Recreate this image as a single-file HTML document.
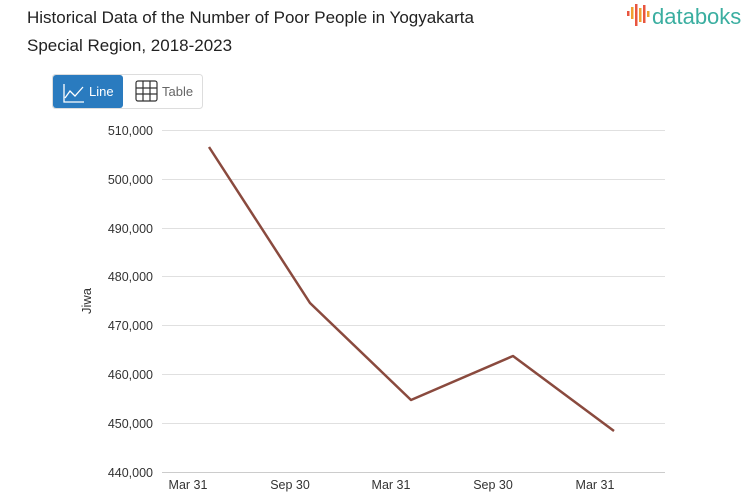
<!DOCTYPE html>
<html><head><meta charset="utf-8"><style>
body{margin:0;width:753px;height:498px;background:#fff;font-family:"Liberation Sans",sans-serif;overflow:hidden;position:relative}
.t{position:absolute;left:27px;top:4px;font-size:17px;line-height:28px;color:#222}
</style></head><body>
<div class="t">Historical Data of the Number of Poor People in Yogyakarta<br>Special Region, 2018-2023</div>
<svg width="753" height="498" style="position:absolute;left:0;top:0">
<g fill="#e8553f"><rect x="627" y="11" width="2.5" height="5"/><rect x="631" y="7" width="2.5" height="12" fill="#f0a030"/><rect x="635" y="4" width="2.5" height="22"/><rect x="639" y="8" width="2.5" height="14" fill="#f0a030"/><rect x="643" y="5" width="2.5" height="18"/><rect x="647" y="11" width="2.5" height="6" fill="#f0a030"/></g>
<text x="652" y="24" font-size="22" fill="#3aaea0" font-family="Liberation Sans">databoks</text>
<rect x="52.5" y="74.5" width="150" height="34" rx="3" fill="#fff" stroke="#ddd"/>
<rect x="53" y="75" width="70" height="33" rx="3" fill="#2a7bbf"/>
<polyline points="64,84 64,102 84,102" fill="none" stroke="#fff" stroke-width="1.3"/>
<polyline points="65,98 70,91 75,96 83,87" fill="none" stroke="#fff" stroke-width="1.3"/>
<text x="89" y="96" font-size="13" fill="#fff">Line</text>
<g stroke="#333" stroke-width="1.2" fill="none"><rect x="136" y="81" width="21" height="20" rx="2"/><line x1="143" y1="81" x2="143" y2="101"/><line x1="150" y1="81" x2="150" y2="101"/><line x1="136" y1="88" x2="157" y2="88"/><line x1="136" y1="94" x2="157" y2="94"/></g>
<text x="162" y="96" font-size="13" fill="#666">Table</text>
<g stroke="#e0e0e0" stroke-width="1">
<line x1="162" x2="665" y1="130.5" y2="130.5"/><line x1="162" x2="665" y1="179.5" y2="179.5"/><line x1="162" x2="665" y1="228.5" y2="228.5"/><line x1="162" x2="665" y1="276.5" y2="276.5"/><line x1="162" x2="665" y1="325.5" y2="325.5"/><line x1="162" x2="665" y1="374.5" y2="374.5"/><line x1="162" x2="665" y1="423.5" y2="423.5"/></g>
<line x1="162" x2="665" y1="472.5" y2="472.5" stroke="#ccc"/>
<g font-size="12.5" fill="#333" text-anchor="end">
<text x="153" y="135">510,000</text><text x="153" y="184">500,000</text><text x="153" y="233">490,000</text><text x="153" y="281">480,000</text><text x="153" y="330">470,000</text><text x="153" y="379">460,000</text><text x="153" y="428">450,000</text><text x="153" y="477">440,000</text></g>
<g font-size="12.5" fill="#333" text-anchor="middle">
<text x="188" y="489">Mar 31</text><text x="290" y="489">Sep 30</text><text x="391" y="489">Mar 31</text><text x="493" y="489">Sep 30</text><text x="595" y="489">Mar 31</text></g>
<text transform="translate(91,301) rotate(-90)" font-size="13" fill="#333" text-anchor="middle">Jiwa</text>
<polyline points="209,147 310,303 411,400 513,356 614,431" fill="none" stroke="#8a4a3e" stroke-width="2.5" stroke-linejoin="round"/>
</svg>
</body></html>
